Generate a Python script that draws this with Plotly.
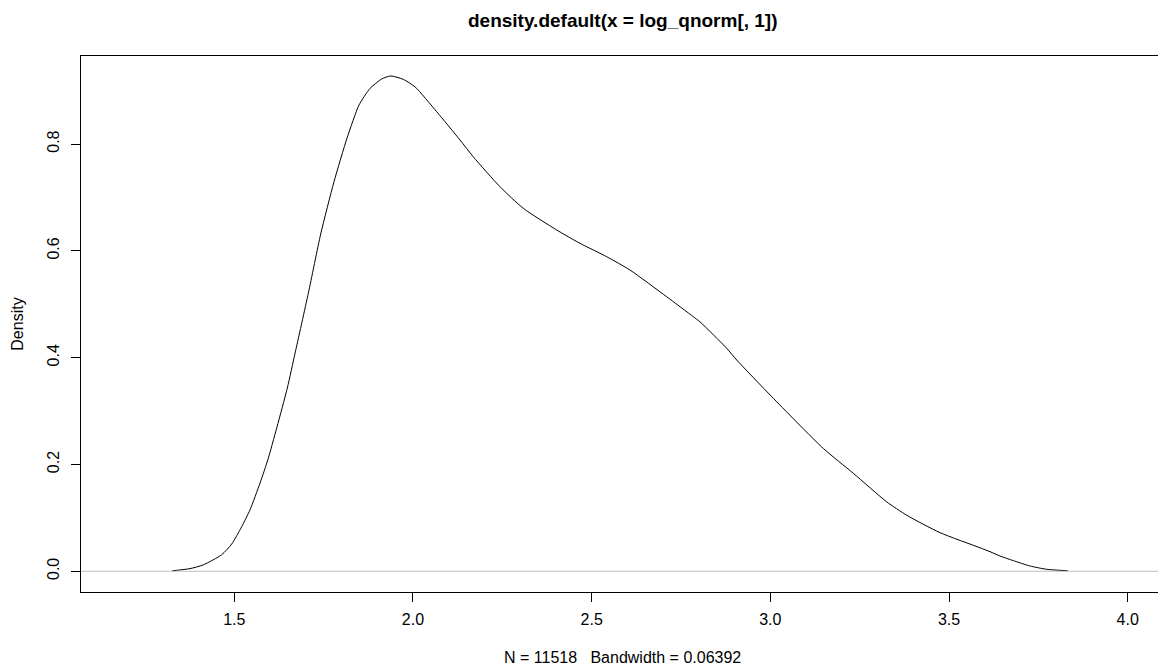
import plotly.graph_objects as go

# Density curve
density_x = [1.3265, 1.3760, 1.4133, 1.4647, 1.4927, 1.5207, 1.5439, 1.5719, 1.5951,
             1.6483, 1.6699, 1.7071, 1.7418, 1.7790, 1.8162, 1.8489, 1.8797, 1.9125,
             1.9377, 1.9729, 2.0057, 2.0664, 2.1316, 2.1688, 2.2435, 2.3087, 2.4022,
             2.4674, 2.5421, 2.6073, 2.7100, 2.7844, 2.8032, 2.8779, 2.9059, 3.0038,
             3.1482, 3.2321, 3.3256, 3.3816, 3.4748, 3.5867, 3.6147, 3.6427, 3.6799,
             3.7267, 3.7733, 3.8321]
density_y = [0.001, 0.005, 0.012, 0.031, 0.051, 0.0835, 0.115, 0.165, 0.2116,
             0.343, 0.408, 0.5205, 0.6315, 0.7295, 0.8126, 0.873, 0.904, 0.9218,
             0.9274, 0.921, 0.907, 0.8605, 0.8075, 0.776, 0.720, 0.6796, 0.639,
             0.614, 0.589, 0.564, 0.514, 0.4767, 0.467, 0.4175, 0.3956, 0.327,
             0.230, 0.1835, 0.130, 0.105, 0.0723, 0.044, 0.0367, 0.0286, 0.0199,
             0.0099, 0.0037, 0.001]

x_ticks = [1.5, 2.0, 2.5, 3.0, 3.5, 4.0]
y_ticks = [0.0, 0.2, 0.4, 0.6, 0.8]

title_text = "density.default(x = log_qnorm[, 1])"
sub_text = "N = 11518\u00a0\u00a0\u00a0Bandwidth = 0.06392"
ylabel_text = "Density"

FONT = "Liberation Sans, Arial, Helvetica, sans-serif"

fig = go.Figure()
fig.add_trace(go.Scatter(x=density_x, y=density_y, mode="lines",
                         line=dict(color="black", width=1, shape="spline", smoothing=0.6),
                         hoverinfo="skip", showlegend=False))

X0, X1 = 1.0710, 4.0848
Y0, Y1 = -0.0388, 0.9648

fig.add_shape(type="line", xref="x", yref="y", x0=X0, x1=X1, y0=0, y1=0,
              line=dict(color="#bebebe", width=1), layer="above")

fig.update_layout(
    width=1158, height=669,
    margin=dict(l=81, r=0, t=56, b=77, pad=0),
    paper_bgcolor="white", plot_bgcolor="white",
    font=dict(family=FONT, size=16, color="black"),
    showlegend=False,
    xaxis=dict(range=[X0, X1], tickvals=x_ticks, ticktext=[f"{v:.1f}" for v in x_ticks],
               showgrid=False, zeroline=False, showline=True, mirror=True,
               linecolor="black", linewidth=1, ticks="outside", ticklen=9,
               tickcolor="black", tickwidth=1, tickfont=dict(size=16, family=FONT),
               ticklabelstandoff=4),
    yaxis=dict(range=[Y0, Y1], tickvals=y_ticks, ticktext=[f"{v:.1f}" for v in y_ticks],
               showgrid=False, zeroline=False, showline=True, mirror=False,
               linecolor="black", linewidth=1, ticks="outside", ticklen=9,
               tickcolor="black", tickwidth=1, tickangle=-90,
               tickfont=dict(size=16, family=FONT), ticklabelstandoff=6),
    annotations=[
        dict(text="<b>" + title_text + "</b>", xref="paper", yref="paper",
             x=(622.6 - 81) / 1077, y=1, xanchor="center", yanchor="bottom",
             yshift=23, showarrow=False, font=dict(size=19, family=FONT)),
        dict(text=sub_text, xref="paper", yref="paper",
             x=(622.6 - 81) / 1077, y=(592 - 657) / 536, xanchor="center", yanchor="middle",
             showarrow=False, font=dict(size=16, family=FONT)),
        dict(text=ylabel_text, xref="paper", yref="paper",
             x=(16.7 - 81) / 1077, y=0.5, xanchor="center", yanchor="middle",
             textangle=-90, showarrow=False, font=dict(size=16, family=FONT)),
    ],
)

fig.write_html("out.html")
